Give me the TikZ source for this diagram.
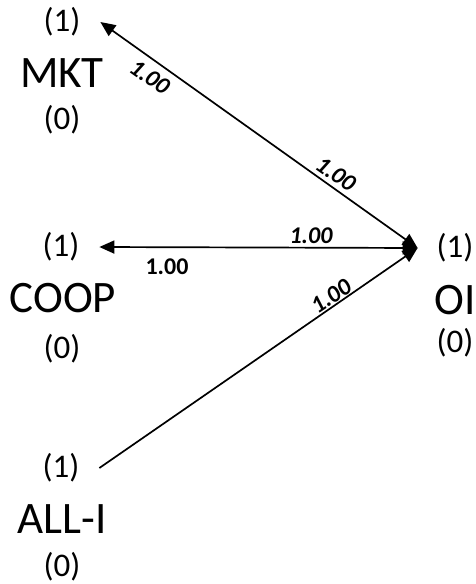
\documentclass[tikz,border=0pt]{standalone}
\usepackage{fontspec}
\setmainfont{Carlito}
\usetikzlibrary{arrows.meta}
\begin{document}
\begin{tikzpicture}[x=1pt,y=-1pt,
  numtxt/.style={font=\fontsize{33}{35}\selectfont, inner sep=0pt},
  nametxt/.style={font=\fontsize{45}{47}\selectfont, inner sep=0pt},
  wt/.style={font=\fontsize{24}{26}\selectfont\bfseries\itshape, inner sep=0pt},
  wtup/.style={font=\fontsize{24}{26}\selectfont\bfseries, inner sep=0pt},
  tipL/.style={outer xsep=20pt},
  tipR/.style={outer xsep=19pt},
  conn/.style={line width=1.7pt},
  tip/.tip={Triangle[length=15pt,width=13pt]}]
\useasboundingbox (0,0) rectangle (475,584);
% MKT
\node[numtxt,tipL] (mkt1) at (62,22) {(1)};
\node[nametxt] (mkt) at (62,73) {MKT};
\node[numtxt] (mkt0) at (62,120) {(0)};
% COOP
\node[numtxt,tipL] (coop1) at (61,247) {(1)};
\node[nametxt] (coop) at (63,298) {COOP};
\node[numtxt] (coop0) at (62,349) {(0)};
% ALL-I
\node[numtxt,tipL] (all1) at (61,468) {(1)};
\node[nametxt] (all) at (62,519) {ALL-I};
\node[numtxt] (all0) at (62,567) {(0)};
% OI
\node[numtxt,tipR] (oi1) at (455,248) {(1)};
\node[nametxt] (oi) at (455,300) {OI};
\node[numtxt] (oi0) at (455,343) {(0)};
% connectors
\draw[conn,{tip}-{tip}] (mkt1.east) -- (oi1.west);
\draw[conn,{tip}-{tip}] (coop1.east) -- (oi1.west);
\draw[conn,-{tip}] (all1.east) -- (oi1.west);
% weights
\node[wt,rotate=-35] (w1) at (150,77) {1.00};
\node[wt,rotate=-35] (w2) at (336,174) {1.00};
\node[wt] (w3) at (311,236) {1.00};
\node[wtup] (w4) at (167,267) {1.00};
\node[wt,rotate=34] (w5) at (331,296) {1.00};
\end{tikzpicture}
\end{document}
